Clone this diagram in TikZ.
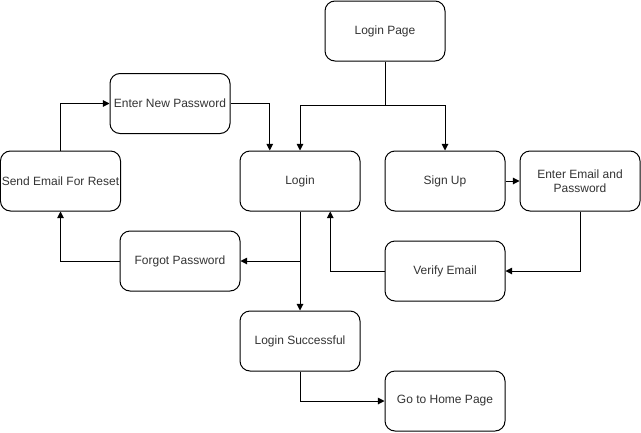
\documentclass[tikz,border=0pt]{standalone}
\usepackage{fontspec}
\setmainfont{Liberation Sans}
\usetikzlibrary{arrows.meta,calc}

\begin{document}
\begin{tikzpicture}[x=0.75pt,y=-0.75pt]
        \tikzset{StepBox/.style={draw, line width=0.75pt, rounded corners=7.5pt,
        minimum width=90pt, minimum height=45pt, align=center, inner xsep=1pt,
        font=\fontsize{9pt}{10.5pt}\selectfont, text=black!80},
        Link/.style={-{Triangle[length=5pt,width=5pt]}, line width=0.75pt}}
        \useasboundingbox (0,0) rectangle (641,432);
        \node[StepBox] (page) at (385,31) {Login Page};
        \node[StepBox] (newpw) at (170,103.5) {Enter New Password};
        \node[StepBox] (reset) at (60.5,181) {Send Email For Reset};
        \node[StepBox] (login) at (300,181) {Login};
        \node[StepBox] (signup) at (445,181) {Sign Up};
        \node[StepBox] (enter) at (580,181) {Enter Email and\\Password};
        \node[StepBox] (forgot) at (180,261) {Forgot Password};
        \node[StepBox] (verify) at (445,271) {Verify Email};
        \node[StepBox] (success) at (300,341) {Login Successful};
        \node[StepBox] (home) at (445,401) {Go to Home Page};
        \coordinate (fork) at (385,105);
        \draw[line width=0.75pt] (page.south) -- (fork);
        \draw[Link] (fork) -| (login.north);
        \draw[Link] (fork) -| (signup.north);
        \draw[Link] (reset.north) |- (newpw.west);
        \draw[Link] (newpw.east) -| ($(login.north west)!0.25!(login.north east)$);
        \draw[Link] (login.south) -- (success.north);
        \draw[Link] (login.south |- forgot.east) -- (forgot.east);
        \draw[Link] (forgot.west) -| (reset.south);
        \draw[Link] (signup.east) -- (enter.west);
        \draw[Link] (enter.south) |- (verify.east);
        \draw[Link] (verify.west) -| ($(login.south west)!0.75!(login.south east)$);
        \draw[Link] (success.south) |- (home.west);
    \end{tikzpicture}
\end{document}
